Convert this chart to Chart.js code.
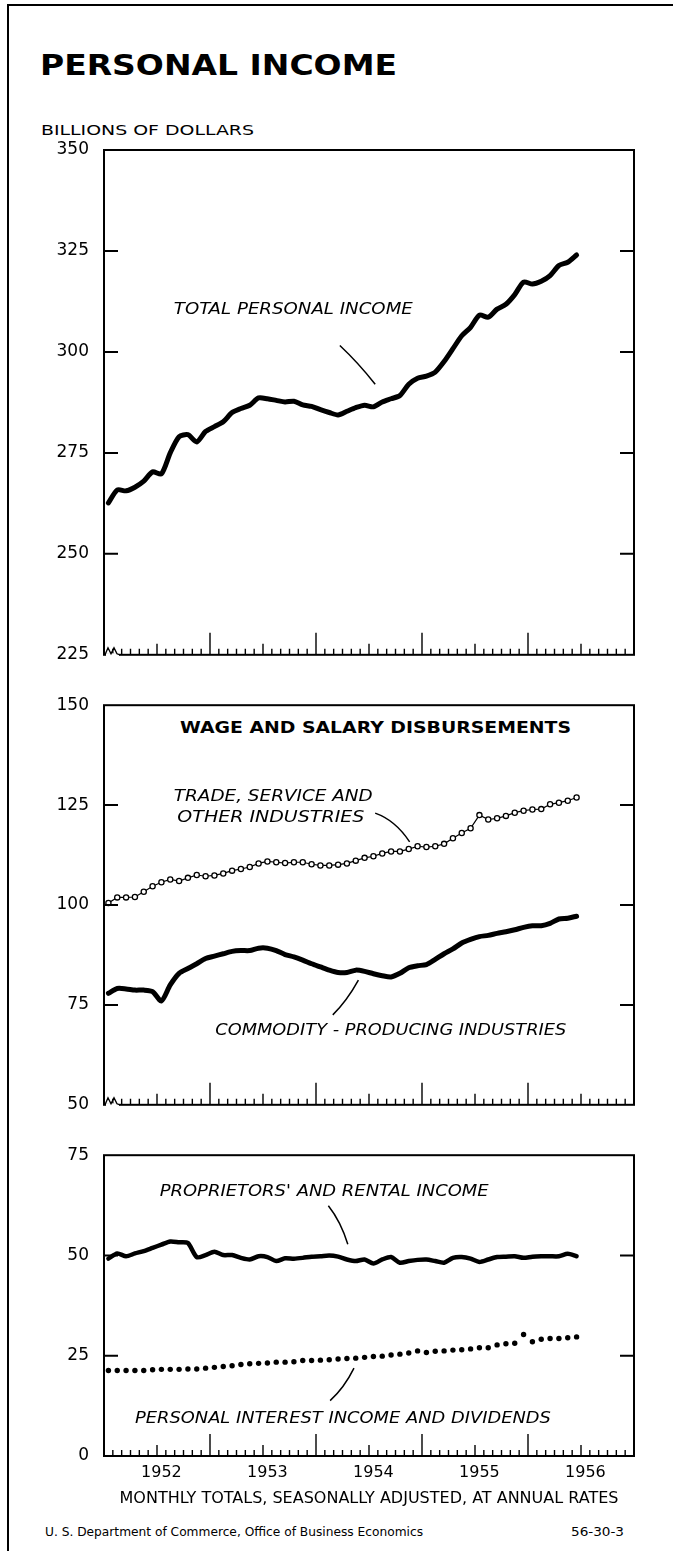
<!DOCTYPE html>
<html>
<head>
<meta charset="utf-8">
<title>Personal Income</title>
<script src="https://cdn.jsdelivr.net/npm/chart.js@4.4.1/dist/chart.umd.min.js"></script>
<style>
  html, body { margin: 0; padding: 0; background: #fff; }
  #page { position: relative; width: 673px; height: 1551px; overflow: hidden; background: #fff;
          font-family: "DejaVu Sans", sans-serif; color: #000; }
  .t { position: absolute; white-space: nowrap; line-height: 1; transform-origin: 0 0; }
  .rule { position: absolute; background: #000; }
  canvas { position: absolute; left: 0; }
</style>
</head>
<body>
<div id="page">
  <div class="rule" style="left:7px;top:4px;width:2px;height:1547px"></div>
  <div class="rule" style="left:7px;top:4px;width:666px;height:2px"></div>

  <div class="t" data-w="357" style="left:40px;top:52px;font-size:28px;font-weight:bold">PERSONAL INCOME</div>
  <div class="t" data-w="213" style="left:41px;top:123px;font-size:14px">BILLIONS OF DOLLARS</div>
  <div class="t" data-w="391" style="left:180px;top:720px;font-size:16px;font-weight:bold">WAGE AND SALARY DISBURSEMENTS</div>
  <div class="t" data-w="378" style="left:45px;top:1526px;font-size:12px">U. S. Department of Commerce, Office of Business Economics</div>
  <div class="t" data-w="53" style="left:571px;top:1526px;font-size:12px">56-30-3</div>

  <canvas id="c1" width="673" height="560" style="top:120px"></canvas>
  <canvas id="c2" width="673" height="450" style="top:680px"></canvas>
  <canvas id="c3" width="673" height="421" style="top:1130px"></canvas>
</div>

<script>
// months Jan 1952 .. Dec 1956 (category axis), data runs Jan 1952 - Jun 1956
const years = ['1952', '1953', '1954', '1955', '1956'];
const monthNames = ['Jan', 'Feb', 'Mar', 'Apr', 'May', 'Jun', 'Jul', 'Aug', 'Sep', 'Oct', 'Nov', 'Dec'];
const months = years.flatMap(y => monthNames.map(m => m + ' ' + y));

// billions of dollars, seasonally adjusted annual rates
const totalIncome = [262.6, 265.8, 265.6, 266.5, 268.0, 270.3, 269.8, 275.0, 279.0, 279.5,
  277.7, 280.3, 281.5, 282.7, 285.0, 286.0, 286.8, 288.6, 288.4, 288.0,
  287.6, 287.8, 286.9, 286.5, 285.7, 285.0, 284.4, 285.3, 286.2, 286.8,
  286.4, 287.6, 288.4, 289.2, 292.0, 293.5, 294.0, 295.0, 297.6, 300.8,
  304.0, 306.1, 309.1, 308.6, 310.6, 311.8, 314.2, 317.3, 316.8, 317.5,
  318.9, 321.4, 322.2, 324.0];

const tradeService = [100.5, 101.9, 101.9, 102.0, 103.3, 104.7, 105.7, 106.4, 106.0, 106.8,
  107.5, 107.2, 107.4, 107.9, 108.6, 109.0, 109.5, 110.4, 110.9, 110.7,
  110.5, 110.7, 110.7, 110.2, 109.9, 109.9, 110.1, 110.4, 111.1, 111.8,
  112.2, 112.9, 113.4, 113.4, 114.0, 114.7, 114.5, 114.7, 115.3, 116.7,
  118.0, 119.2, 122.5, 121.4, 121.7, 122.3, 123.1, 123.6, 123.9, 124.0,
  125.2, 125.6, 126.1, 126.9];

const commodity = [77.9, 79.1, 79.0, 78.7, 78.7, 78.3, 76.0, 80.0, 82.9, 84.1,
  85.3, 86.6, 87.2, 87.8, 88.4, 88.6, 88.6, 89.2, 89.2, 88.6,
  87.6, 87.0, 86.2, 85.3, 84.5, 83.7, 83.1, 83.1, 83.7, 83.4,
  82.8, 82.3, 82.0, 82.9, 84.3, 84.8, 85.1, 86.4, 87.8, 89.0,
  90.5, 91.4, 92.1, 92.4, 92.9, 93.3, 93.8, 94.4, 94.8, 94.8,
  95.4, 96.5, 96.7, 97.2];

const proprietors = [49.2, 50.5, 49.8, 50.5, 51.1, 51.9, 52.7, 53.5, 53.3, 53.1,
  49.6, 50.1, 50.9, 50.1, 50.1, 49.4, 49.0, 49.8, 49.6, 48.6,
  49.3, 49.2, 49.4, 49.7, 49.8, 50.0, 49.7, 49.0, 48.6, 49.0,
  48.0, 49.0, 49.6, 48.2, 48.6, 48.9, 49.0, 48.6, 48.2, 49.4,
  49.6, 49.2, 48.4, 49.0, 49.6, 49.7, 49.8, 49.4, 49.7, 49.8,
  49.8, 49.8, 50.4, 49.8];

const interest = [21.3, 21.3, 21.3, 21.3, 21.3, 21.5, 21.6, 21.6, 21.6, 21.7,
  21.7, 21.9, 22.1, 22.3, 22.5, 22.8, 23.0, 23.1, 23.2, 23.4,
  23.4, 23.5, 23.8, 23.8, 23.9, 24.0, 24.2, 24.3, 24.4, 24.6,
  24.8, 24.9, 25.2, 25.4, 25.7, 26.2, 25.8, 26.1, 26.2, 26.4,
  26.5, 26.7, 27.0, 27.0, 27.7, 28.0, 28.1, 30.3, 28.5, 29.1,
  29.3, 29.3, 29.5, 29.7];

const FONT = '"DejaVu Sans", sans-serif';
Chart.defaults.font.family = FONT;
Chart.defaults.color = '#000';

// stretch html captions to the width they take in the original
document.querySelectorAll('.t[data-w]').forEach(el => {
  const w = el.getBoundingClientRect().width;
  el.style.transform = 'scaleX(' + (el.dataset.w / w) + ')';
});

// frame, inward ticks, month ticks, scale break, captions and leader lines
const deco = {
  id: 'deco',
  afterDraw(chart, args, opts) {
    const { ctx, chartArea: a, scales: { x, y } } = chart;
    const px = m => x.getPixelForValue(m - 0.5);
    ctx.save();
    ctx.strokeStyle = '#000';
    ctx.fillStyle = '#000';

    ctx.lineWidth = 2;
    ctx.strokeRect(a.left, a.top, a.right - a.left, a.bottom - a.top);

    ctx.beginPath();
    y.ticks.forEach(t => {
      if (t.value <= y.min || t.value >= y.max) return;
      const py = y.getPixelForValue(t.value);
      ctx.moveTo(a.left, py); ctx.lineTo(a.left + 14, py);
      ctx.moveTo(a.right - 14, py); ctx.lineTo(a.right, py);
    });
    ctx.stroke();

    ctx.lineWidth = 1.4;
    ctx.beginPath();
    for (let k = 1; k < months.length; k++) {
      const p = px(k);
      const h = k % 12 === 0 ? 22 : (k % 12 === 6 ? 11 : 6);
      ctx.moveTo(p, a.bottom); ctx.lineTo(p, a.bottom - h);
    }
    ctx.stroke();

    if (opts.brk) {
      ctx.strokeStyle = '#fff';
      ctx.lineWidth = 3;
      ctx.beginPath();
      ctx.moveTo(a.left + 2, a.bottom); ctx.lineTo(a.left + 15, a.bottom);
      ctx.stroke();
      ctx.strokeStyle = '#000';
      ctx.lineWidth = 1.4;
      ctx.beginPath();
      ctx.moveTo(a.left + 1, a.bottom);
      ctx.lineTo(a.left + 4, a.bottom - 7);
      ctx.lineTo(a.left + 7, a.bottom - 1);
      ctx.lineTo(a.left + 10, a.bottom - 7);
      ctx.lineTo(a.left + 13, a.bottom - 1);
      ctx.lineTo(a.left + 16, a.bottom);
      ctx.stroke();
    }

    ctx.lineWidth = 1.5;
    (opts.leaders || []).forEach(l => {
      ctx.beginPath();
      ctx.moveTo(px(l.x1), y.getPixelForValue(l.y1));
      ctx.quadraticCurveTo(px(l.cx), y.getPixelForValue(l.cy), px(l.x2), y.getPixelForValue(l.y2));
      ctx.stroke();
    });

    ctx.textBaseline = 'alphabetic';
    ctx.textAlign = 'left';
    (opts.notes || []).forEach(n => {
      ctx.font = 'italic ' + n.size + 'px ' + FONT;
      const w = ctx.measureText(n.text).width;
      ctx.save();
      ctx.translate(px(n.x), y.getPixelForValue(n.y) + 0.36 * n.size);
      ctx.scale(n.w / w, 1);
      ctx.fillText(n.text, 0, 0);
      ctx.restore();
    });
    ctx.restore();
  }
};

function yScale(min, max) {
  return {
    min: min, max: max,
    ticks: { stepSize: 25, padding: 15, font: { size: 17 }, color: '#000' },
    grid: { display: false, drawTicks: false },
    border: { display: false },
    afterFit: s => { s.width = 104; }
  };
}

const hiddenX = { type: 'category', offset: true, display: false };

function makeChart(id, datasets, scales, padding, decoOpts) {
  return new Chart(document.getElementById(id), {
    type: 'line',
    data: { labels: months, datasets: datasets },
    options: {
      responsive: false,
      animation: false,
      devicePixelRatio: 1,
      layout: { padding: padding },
      scales: scales,
      plugins: { legend: { display: false }, tooltip: { enabled: false }, deco: decoOpts }
    },
    plugins: [deco]
  });
}

const thick = w => ({
  borderColor: '#000', borderWidth: w, pointRadius: 0, tension: 0.25,
  borderCapStyle: 'round', borderJoinStyle: 'round', fill: false
});

makeChart('c1',
  [Object.assign({ label: 'Total personal income', data: totalIncome }, thick(5))],
  { x: hiddenX, y: yScale(225, 350) },
  { top: 30, right: 39, bottom: 22, left: 0 },
  {
    brk: true,
    notes: [{ text: 'TOTAL PERSONAL INCOME', x: 7.9, y: 310.7, size: 15, w: 239 }],
    leaders: [{ x1: 26.7, y1: 301.6, cx: 28.8, cy: 297.3, x2: 30.7, y2: 292.0 }]
  });

makeChart('c2',
  [
    { label: 'Trade, service and other industries', data: tradeService, borderColor: '#000',
      borderWidth: 1.2, tension: 0, pointRadius: 2.6, pointBorderWidth: 1.3,
      pointBackgroundColor: '#fff', pointBorderColor: '#000', fill: false },
    Object.assign({ label: 'Commodity-producing industries', data: commodity }, thick(5))
  ],
  { x: hiddenX, y: yScale(50, 150) },
  { top: 24, right: 39, bottom: 22, left: 0 },
  {
    brk: true,
    notes: [
      { text: 'TRADE, SERVICE AND', x: 7.9, y: 127.5, size: 15, w: 199 },
      { text: 'OTHER INDUSTRIES', x: 8.3, y: 122.0, size: 15, w: 187 },
      { text: 'COMMODITY - PRODUCING INDUSTRIES', x: 12.6, y: 68.8, size: 15, w: 351 }
    ],
    leaders: [
      { x1: 30.7, y1: 123.0, cx: 33.0, cy: 121.2, x2: 34.6, y2: 115.8 },
      { x1: 25.9, y1: 72.5, cx: 27.5, cy: 76.0, x2: 28.8, y2: 81.2 }
    ]
  });

makeChart('c3',
  [
    Object.assign({ label: "Proprietors' and rental income", data: proprietors }, thick(4.5)),
    { label: 'Personal interest income and dividends', data: interest, showLine: false,
      pointRadius: 2.7, pointBorderWidth: 0, pointBackgroundColor: '#000', borderColor: '#000' }
  ],
  {
    x: {
      type: 'category', offset: true,
      grid: { display: false, drawTicks: false },
      border: { display: false },
      ticks: {
        autoSkip: false, maxRotation: 0, minRotation: 0, padding: 7,
        font: { size: 16 }, color: '#000',
        callback: (v, i) => (i % 12 === 6 ? years[Math.floor(i / 12)] : '')
      },
      title: {
        display: true, text: 'MONTHLY TOTALS, SEASONALLY ADJUSTED, AT ANNUAL RATES',
        font: { size: 16 }, color: '#000', padding: { top: 0, bottom: 8 }
      },
      afterFit: s => { s.height = 60; }
    },
    y: yScale(0, 75)
  },
  { top: 22, right: 39, bottom: 35, left: 0 },
  {
    brk: false,
    notes: [
      { text: "PROPRIETORS' AND RENTAL INCOME", x: 6.3, y: 66.1, size: 15, w: 329 },
      { text: 'PERSONAL INTEREST INCOME AND DIVIDENDS', x: 3.5, y: 9.6, size: 15, w: 416 }
    ],
    leaders: [
      { x1: 25.4, y1: 62.4, cx: 26.8, cy: 58.5, x2: 27.6, y2: 52.8 },
      { x1: 25.6, y1: 13.8, cx: 27.2, cy: 17.0, x2: 28.3, y2: 21.9 }
    ]
  });
</script>
</body>
</html>
